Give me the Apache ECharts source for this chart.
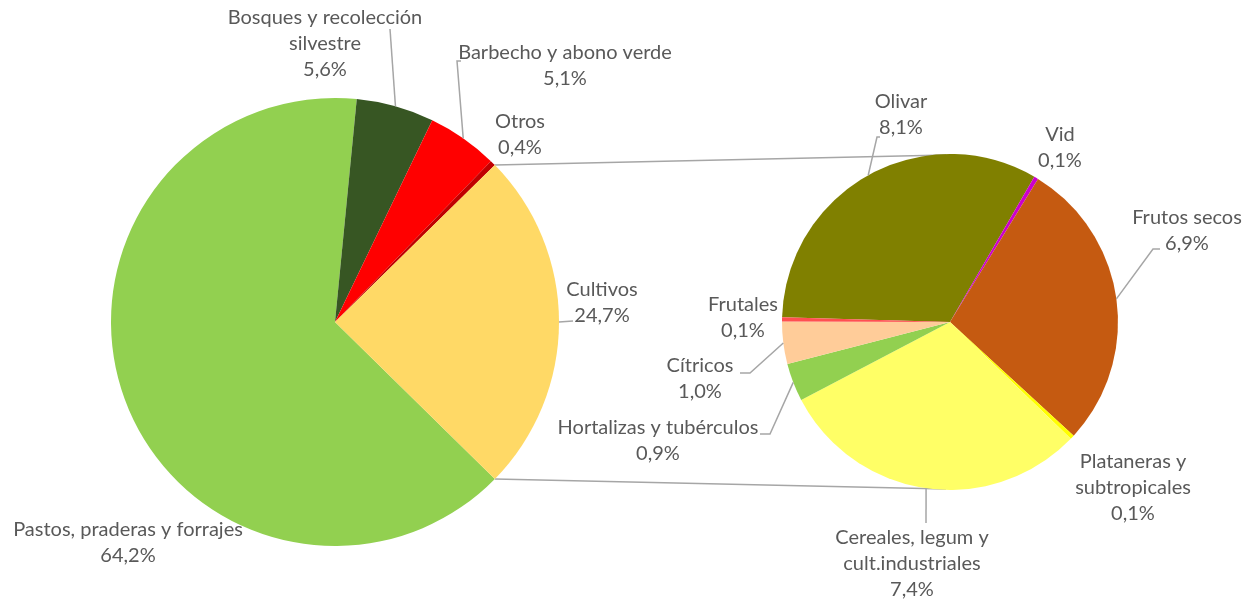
<!DOCTYPE html>
<html>
<head>
<meta charset="utf-8">
<script src="https://cdn.jsdelivr.net/npm/echarts@6/dist/echarts.min.js"></script>
<style>
  html, body { margin: 0; padding: 0; background: #ffffff; }
  #chart { width: 1247px; height: 601px; }
</style>
</head>
<body>
<div id="chart"></div>
<script>
// Land use shares (% of total surface)
const mainNames = ['Pastos, praderas y forrajes', 'Bosques y recolección\nsilvestre', 'Barbecho y abono verde', 'Otros', 'Cultivos'];
const mainValues = [64.2, 5.6, 5.1, 0.4, 24.7];
const mainColors = ['#92D050', '#375623', '#FF0000', '#C00000', '#FFD966'];

// Breakdown of "Cultivos" (% of total surface)
const subNames = ['Olivar', 'Vid', 'Frutos secos', 'Plataneras y\nsubtropicales', 'Cereales, legum y\ncult.industriales', 'Hortalizas y tubérculos', 'Cítricos', 'Frutales'];
const subValues = [8.1, 0.1, 6.9, 0.1, 7.4, 0.9, 1.0, 0.1];
const subColors = ['#808000', '#CC00CC', '#C55A11', '#FFFF00', '#FFFF66', '#92D050', '#FFCC99', '#FF5050'];

// Geometry of the two pies
const MAIN = { cx: 335, cy: 322, r: 224 };
const SUB = { cx: 950, cy: 322, r: 168 };
const sum = a => a.reduce((s, v) => s + v, 0);
// main pie: the split slice (last) is centred on the 3 o'clock direction
const mainStart = -(mainValues[mainValues.length - 1] / sum(mainValues) * 360) / 2;
const subStart = 178.4;

// label block centres
const mainLabelPos = [[128, 543], [325, 44], [565, 66], [520, 135], [602, 303]];
const subLabelPos = [[901, 115], [1060, 148], [1187, 231], [1133, 488], [912, 564], [658, 441], [700, 379], [743, 318]];
// leader line ends (null = no leader)
const mainLeaderEnds = [null, [[390, 29]], [[457, 61], [461, 61]], null, [[573, 321]]];
const subLeaderEnds = [[[877, 137], [880, 137]], null, [[1153, 249], [1160, 249]], null, [[926, 523]], [[770, 434], [760, 434]], [[750, 373], [740, 373]], null];

const TEXT = '#595959';
const LINE = '#A6A6A6';
const fmt = v => v.toFixed(1).replace('.', ',') + '%';

// angle (deg) helpers for clockwise pies
function sliceAngles(values, start) {
  const total = sum(values);
  let acc = 0;
  return values.map(v => {
    const a0 = start - acc / total * 360;
    acc += v;
    const a1 = start - acc / total * 360;
    return { a0, a1, mid: (a0 + a1) / 2 };
  });
}
function onCircle(g, deg) {
  const t = deg * Math.PI / 180;
  return [g.cx + g.r * Math.cos(t), g.cy - g.r * Math.sin(t)];
}

const mainAng = sliceAngles(mainValues, mainStart);
const subAng = sliceAngles(subValues, subStart);

const graphics = [];
// connector lines between the split slice and the secondary pie
const split = mainAng[mainAng.length - 1];
const pTop = onCircle(MAIN, split.a0);
const pBot = onCircle(MAIN, split.a1);
graphics.push({ type: 'line', z: 0, shape: { x1: pTop[0], y1: pTop[1], x2: SUB.cx - 4, y2: SUB.cy - SUB.r + 1 }, style: { stroke: LINE, lineWidth: 1.5 } });
graphics.push({ type: 'line', z: 0, shape: { x1: pBot[0], y1: pBot[1], x2: SUB.cx - 4, y2: SUB.cy + SUB.r - 1 }, style: { stroke: LINE, lineWidth: 1.5 } });

function leaders(geom, angs, ends) {
  ends.forEach((e, i) => {
    if (!e) return;
    const p = onCircle(geom, angs[i].mid);
    graphics.push({ type: 'polyline', z: 100, shape: { points: [p].concat(e) }, style: { stroke: LINE, lineWidth: 1.5, fill: null } });
  });
}
leaders(MAIN, mainAng, mainLeaderEnds);
leaders(SUB, subAng, subLeaderEnds);

const labelStyle = {
  show: true,
  position: 'outside',
  color: TEXT,
  fontFamily: 'Lato',
  fontSize: 20,
  lineHeight: 26,
  formatter: p => p.name + '\n' + fmt(p.value)
};

function pieSeries(names, values, colors, geom, start, pos) {
  return {
    type: 'pie',
    center: [geom.cx, geom.cy],
    radius: geom.r,
    startAngle: start,
    clockwise: true,
    avoidLabelOverlap: false,
    animation: false,
    silent: true,
    emphasis: { disabled: true },
    itemStyle: { borderWidth: 0 },
    label: labelStyle,
    labelLine: { show: false },
    labelLayout: params => ({ x: pos[params.dataIndex][0], y: pos[params.dataIndex][1], align: 'center', verticalAlign: 'middle' }),
    data: names.map((n, i) => ({ name: n, value: values[i], itemStyle: { color: colors[i] } }))
  };
}

const chart = echarts.init(document.getElementById('chart'), null, { renderer: 'canvas' });
chart.setOption({
  backgroundColor: '#ffffff',
  animation: false,
  graphic: graphics,
  series: [
    pieSeries(mainNames, mainValues, mainColors, MAIN, mainStart, mainLabelPos),
    pieSeries(subNames, subValues, subColors, SUB, subStart, subLabelPos)
  ]
});
</script>
</body>
</html>
